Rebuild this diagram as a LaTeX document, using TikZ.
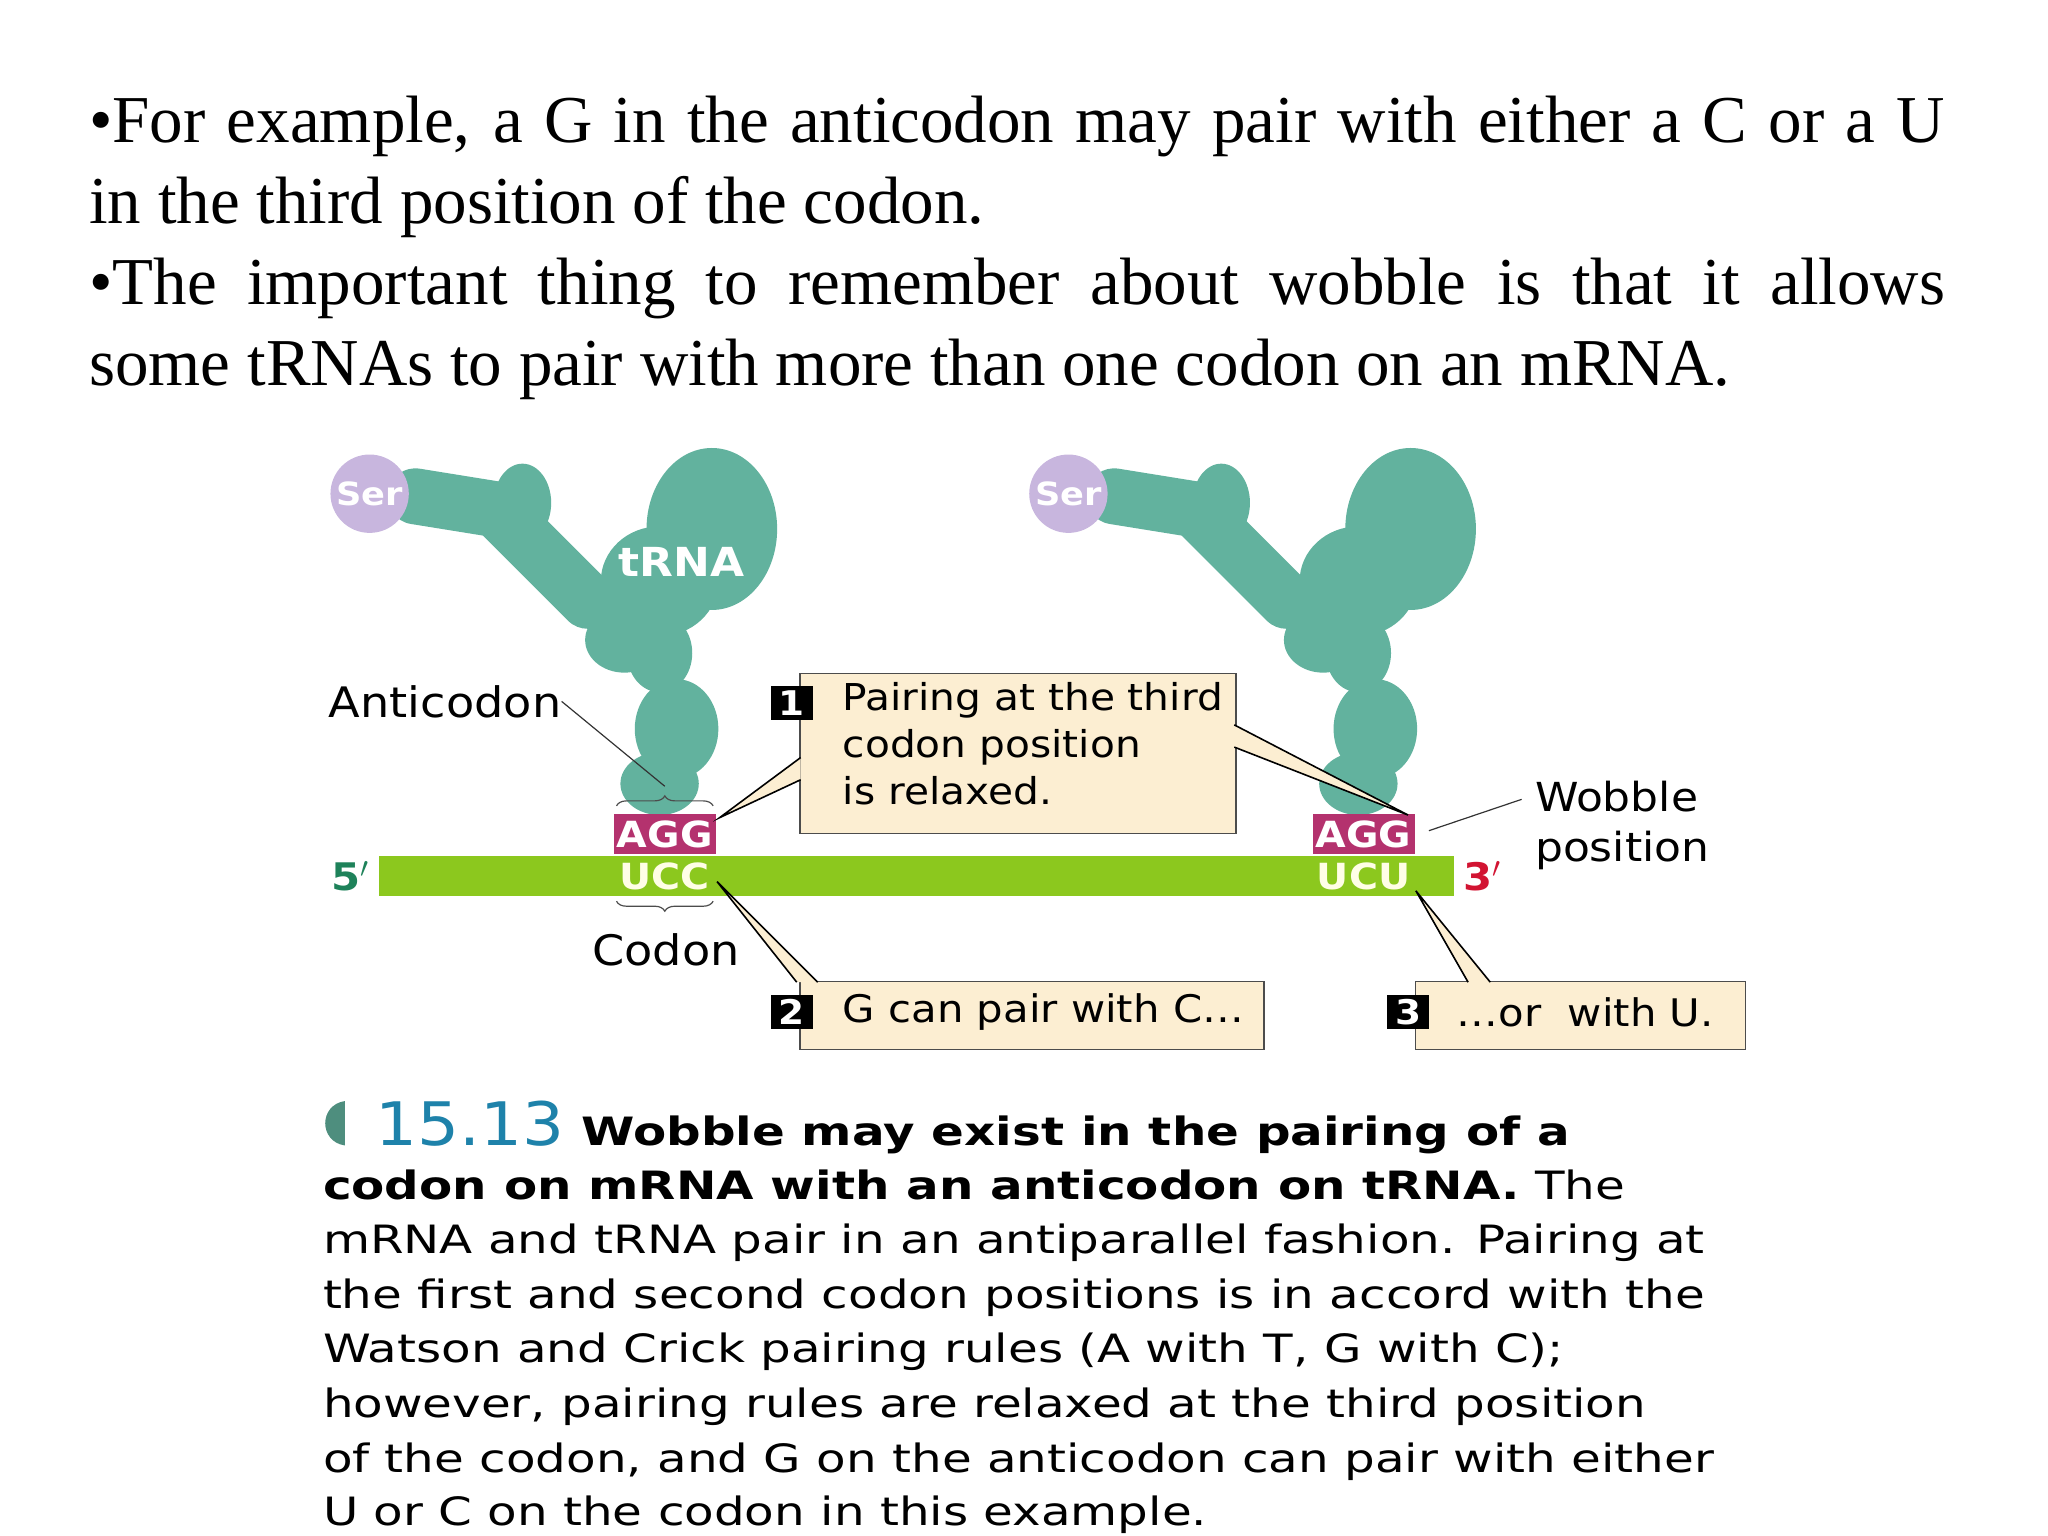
\documentclass[tikz,border=0pt]{standalone}
\usepackage{fontspec}
\setmainfont{Liberation Serif}
\newfontfamily\vfont[FakeStretch=1.1]{DejaVu Sans}
\newfontfamily\cfont[FakeStretch=1.24]{DejaVu Sans}
\usetikzlibrary{decorations.pathreplacing}
\definecolor{teal1}{RGB}{98,178,158}
\definecolor{mgreen}{RGB}{140,200,30}
\definecolor{magent}{RGB}{180,50,110}
\definecolor{lav}{RGB}{200,182,222}
\definecolor{cream}{RGB}{252,238,210}
\definecolor{capblue}{RGB}{30,130,170}
\definecolor{fivep}{RGB}{30,130,90}
\definecolor{threep}{RGB}{210,20,50}
\tikzset{
 lbl/.style={font=\vfont\fontsize{20}{24}\selectfont, inner sep=0pt},
 callbox/.style={draw=black!70, fill=cream, line width=0.8pt},
 numbox/.style={fill=black, text=white, font=\vfont\bfseries\fontsize{17}{17}\selectfont, inner sep=1.5pt, minimum width=21pt, minimum height=17pt},
 capline/.style={font=\cfont\fontsize{19.5}{24}\selectfont, anchor=base west, inner sep=0pt},
 trna/.style={fill=teal1, draw=none},
 wedge/.style={draw=black, line width=0.8pt, fill=cream}
}
\begin{document}
\begin{tikzpicture}[x=0.6531pt,y=-0.6531pt]
\useasboundingbox (0,0) rectangle (1568,1176);
% top text
\node[anchor=north west, inner sep=0pt, text width=928pt, align=justify, font=\fontsize{33.5}{40.6}\selectfont] (top) at (68,73)
 {\textbullet For example, a G in the anticodon may pair with either a C or a U\linebreak in the third position of the codon.\par
 \textbullet The important thing to remember about wobble is that it allows\linebreak some tRNAs to pair with more than one codon on an mRNA.};
% tRNAs
\foreach \dx/\nm in {0/L,535/R}{
 \begin{scope}[xshift=\dx*0.6531pt]
  \draw[teal1, line width=28pt, line cap=round, line join=round] (318,380) -- (380,390) -- (450,460);
  \fill[trna] (400,385) ellipse (22 and 30);
  \fill[trna] (545,405) ellipse (50 and 62);
  \fill[trna] (505,445) ellipse (45 and 42);
  \fill[trna] (478,490) ellipse (30 and 25);
  \fill[trna] (505,500) ellipse (25 and 30);
  \fill[trna] (518,558) ellipse (32 and 38);
  \fill[trna] (505,600) ellipse (30 and 24);
  \fill[trna] (500,525) rectangle (520,620);
  \fill[lav] (283,378) circle (30);
  \node[font=\vfont\bfseries\fontsize{16}{16}\selectfont, text=white] (ser\nm) at (283,378) {Ser};
  \fill[magent] (470,623) rectangle (548,654);
 \end{scope}
}
\node[font=\vfont\bfseries\fontsize{20}{20}\selectfont, text=white] (trnalbl) at (522,430) {tRNA};
% mRNA
\fill[mgreen] (290,655) rectangle (1113,686);
\node[lbl, font=\vfont\bfseries\fontsize{19}{19}\selectfont, text=fivep] (p5) at (268,671) {5$'$};
\node[lbl, font=\vfont\bfseries\fontsize{19}{19}\selectfont, text=threep] (p3) at (1135,671) {3$'$};
\node[font=\vfont\bfseries\fontsize{18}{18}\selectfont, text=white, inner sep=0pt] (agg1) at (509,639) {AGG};
\node[font=\vfont\bfseries\fontsize{18}{18}\selectfont, text=white!90!yellow, inner sep=0pt] (ucc) at (509,671) {UCC};
\node[font=\vfont\bfseries\fontsize{18}{18}\selectfont, text=white, inner sep=0pt] (agg2) at (1044,639) {AGG};
\node[font=\vfont\bfseries\fontsize{18}{18}\selectfont, text=white!90!yellow, inner sep=0pt] (ucu) at (1044,671) {UCU};
% braces
\draw[black!70, line width=0.6pt, decorate, decoration={brace, amplitude=5pt}] (472,617) -- (546,617) coordinate[midway] (bt);
\draw[black!70, line width=0.6pt, decorate, decoration={brace, amplitude=5pt, mirror}] (472,690) -- (546,690);
\node[lbl, anchor=east, font=\vfont\fontsize{21}{24}\selectfont] (anti) at (430,537) {Anticodon};
\draw[black!80, line width=0.6pt] (anti.east) -- (509,602);
\node[lbl, font=\vfont\fontsize{21}{24}\selectfont] (codon) at (510,727) {Codon};
% box 1
\node[callbox, anchor=north west, minimum width=218pt, minimum height=80pt] (b1) at (612,515) {};
\node[lbl, anchor=north west, align=left, font=\vfont\fontsize{18.5}{23.5}\selectfont] (t1) at (645,522) {Pairing at the third\\codon position\\is relaxed.};
\node[numbox] (n1) at (606,538) {1};
\draw[wedge] (613,580) -- (551,626) -- (613,597);
\draw[wedge] (945,555) -- (1078,624) -- (945,572);
% wobble
\node[lbl, anchor=north west, align=left, font=\vfont\fontsize{20}{25}\selectfont] (wob) at (1175,598) {Wobble\\position};
\draw[black!80, line width=0.6pt] (1094,636) -- (1165,612);
% box 2
\node[callbox, anchor=north west, minimum width=232pt, minimum height=34pt] (b2) at (612,751) {};
\node[lbl, anchor=west, font=\vfont\fontsize{19}{24}\selectfont] (t2) at (645,775) {G can pair with C\dots};
\node[numbox] (n2) at (606,775) {2};
\draw[wedge] (610,752) -- (549,675) -- (626,752);
% box 3
\node[callbox, anchor=north west, minimum width=165pt, minimum height=34pt] (b3) at (1083,751) {};
\node[lbl, anchor=west, font=\vfont\fontsize{19}{24}\selectfont] (t3) at (1115,775) {\dots or\ \ with U.};
\node[numbox] (n3) at (1078,775) {3};
\draw[wedge] (1124,752) -- (1084,682) -- (1141,752);
% caption
\fill[teal1!80!black] (264,843) .. controls (244,846) and (244,874) .. (264,877) -- cycle;
\node[capline, font=\vfont\fontsize{30}{30}\selectfont, text=capblue] (num) at (287,877) {15.13};
\node[capline, font=\cfont\bfseries\fontsize{19.5}{24}\selectfont] (c1) at (445,877) {Wobble may exist in the pairing of a};
\node[capline] (c2) at (247,918) {\textbf{codon on mRNA with an anticodon on tRNA.} The};
\node[capline] (c3) at (247,960) {mRNA and tRNA pair in an antiparallel fashion. Pairing at};
\node[capline] (c4) at (247,1002) {the first and second codon positions is in accord with the};
\node[capline] (c5) at (247,1043) {Watson and Crick pairing rules (A with T, G with C);};
\node[capline] (c6) at (247,1085) {however, pairing rules are relaxed at the third position};
\node[capline] (c7) at (247,1127) {of the codon, and G on the anticodon can pair with either};
\node[capline] (c8) at (247,1168) {U or C on the codon in this example.};
\end{tikzpicture}
\end{document}
